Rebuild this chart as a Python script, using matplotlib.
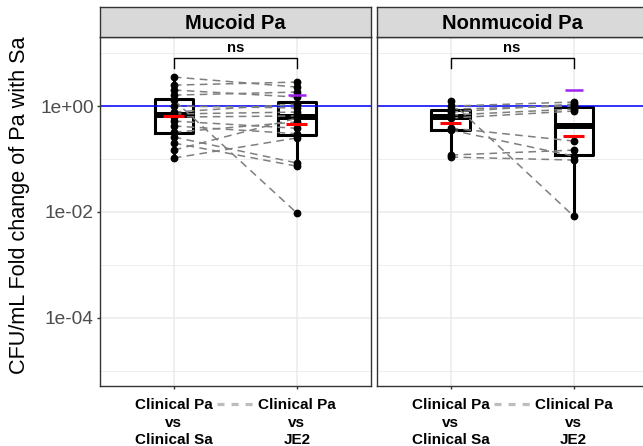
import numpy as np
import matplotlib
matplotlib.use("Agg")
import matplotlib.pyplot as plt
from matplotlib import cbook
from matplotlib.ticker import FixedLocator, FixedFormatter

plt.rcParams.update({
    "font.family": ["Liberation Sans", "DejaVu Sans"],
})

# =========================
# Data (CFU/mL fold change, paired by isolate)
# =========================
panels = ["Mucoid Pa", "Nonmucoid Pa"]
groups = ["Clinical Pa\nvs\nClinical Sa", "Clinical Pa\nvs\nJE2"]

mucoid_clinical_sa = [3.53, 2.49, 2.01, 1.61, 1.30, 1.00, 0.77, 0.71,
                      0.62, 0.52, 0.42, 0.32, 0.26, 0.20, 0.147, 0.104]
mucoid_je2 = [2.29, 2.84, 1.48, 1.84, 0.0095, 0.92, 1.09, 0.77,
              0.65, 0.38, 0.30, 0.50, 0.084, 0.073, 0.59, 0.25]

nonmucoid_clinical_sa = [1.24, 1.00, 0.878, 0.77, 0.676, 0.593, 0.384, 0.352, 0.1186, 0.1086]
nonmucoid_je2 = [0.00833, 1.19, 1.00, 1.09, 0.878, 0.804, 0.218, 0.1135, 0.147, 0.0953]

# purple marker on the JE2 group of each panel
je2_marker = [1.64, 2.01]
sig_labels = ["ns", "ns"]

panel_data = [
    (mucoid_clinical_sa, mucoid_je2),
    (nonmucoid_clinical_sa, nonmucoid_je2),
]

# =========================
# Layout (pixel based, 643 x 446)
# =========================
W, H = 643, 446
fig = plt.figure(figsize=(W / 100, H / 100), dpi=100)

pan_top, pan_bot = 37.3, 386.4
pan_w = 270.7
pan_lefts = [100, 376.7]
strip_h = 30

ymin, ymax = 10 ** -5.3, 10 ** 1.3
major = [1e0, 1e-2, 1e-4]
major_lbl = ["1e+00", "1e-02", "1e-04"]
minor = [1e1, 1e-1, 1e-3, 1e-5]

box_w = 0.31
grid_c = "#EBEBEB"
border_c = "#333333"

for i, (name, (left_vals, right_vals)) in enumerate(zip(panels, panel_data)):
    x0 = pan_lefts[i]
    ax = fig.add_axes([x0 / W, (H - pan_bot) / H, pan_w / W, (pan_bot - pan_top) / H])
    sax = fig.add_axes([x0 / W, (H - pan_top) / H, pan_w / W, strip_h / H])

    ax.set_yscale("log")
    ax.set_ylim(ymin, ymax)
    ax.set_xlim(0.4, 2.6)

    # grid
    for v in minor:
        ax.axhline(v, color=grid_c, lw=0.6, zorder=0)
    for v in major:
        ax.axhline(v, color=grid_c, lw=1.1, zorder=0)
    for xv in [1, 2]:
        ax.axvline(xv, color=grid_c, lw=1.1, zorder=0)

    # boxplots computed on log scale
    stats = []
    for vals in (left_vals, right_vals):
        s = cbook.boxplot_stats(np.log10(vals), whis=1.5)[0]
        for k in ["med", "q1", "q3", "whislo", "whishi", "mean"]:
            s[k] = 10 ** s[k]
        s["fliers"] = []
        stats.append(s)
    ax.bxp(stats, positions=[1, 2], widths=box_w, showfliers=False,
           boxprops=dict(color="black", lw=2.2),
           whiskerprops=dict(color="black", lw=2.2),
           capprops=dict(lw=0),
           medianprops=dict(color="black", lw=4.3, solid_capstyle="butt"),
           zorder=2)

    # reference line at 1
    ax.axhline(1, color="#0000FF", lw=1.1, zorder=2.5)

    # paired lines
    for a, b in zip(left_vals, right_vals):
        ax.plot([1, 2], [a, b], color="#7F7F7F", lw=1.1, dashes=(5, 3.5), zorder=3)

    # points
    ax.plot(np.ones(len(left_vals)), left_vals, "o", color="black", ms=4.6, zorder=4)
    ax.plot(np.full(len(right_vals), 2), right_vals, "o", color="black", ms=4.6, zorder=4)

    # geometric means (red)
    for xp, vals in zip([1, 2], (left_vals, right_vals)):
        gm = 10 ** np.mean(np.log10(vals))
        ax.plot([xp - 0.085, xp + 0.085], [gm, gm], color="#FF0000", lw=2.2,
                solid_capstyle="butt", zorder=5)

    # purple marker
    ax.plot([2 - 0.073, 2 + 0.073], [je2_marker[i]] * 2, color="#A020F0", lw=1.8,
            solid_capstyle="butt", zorder=5)

    # significance bracket
    ax.plot([1, 1, 2, 2], [5.16, 8.19, 8.19, 5.16], color="black", lw=1.0, zorder=5)
    ax.text(1.5, 9.3, sig_labels[i], ha="center", va="bottom", fontsize=10.7,
            fontweight="bold", color="black")

    # odd dashed key between tick labels
    ax.plot([1.35, 1.675], [-0.049, -0.049], transform=ax.get_xaxis_transform(),
            color="#BDBDBD", lw=2.3, dashes=(2.2, 2.2), clip_on=False)

    # axes styling
    ax.set_xticks([1, 2])
    ax.set_xticklabels(groups, fontsize=11, fontweight="bold", color="black",
                       linespacing=1.3)
    ax.yaxis.set_major_locator(FixedLocator(major))
    ax.yaxis.set_minor_locator(FixedLocator([]))
    if i == 0:
        ax.yaxis.set_major_formatter(FixedFormatter(major_lbl))
        ax.tick_params(axis="y", labelsize=13.8, labelcolor="#4D4D4D",
                       color="#333333", length=2.5, width=1, pad=2)
        ax.set_ylabel("CFU/mL Fold change of Pa with Sa", fontsize=15.6, color="black")
        ax.yaxis.set_label_coords(-0.257, 0.52)
    else:
        ax.tick_params(axis="y", left=False, labelleft=False)
    ax.tick_params(axis="x", color="#333333", length=2.5, width=1, pad=6)
    for sp in ax.spines.values():
        sp.set_color(border_c)
        sp.set_linewidth(1.0)

    # facet strip
    sax.set_facecolor("#D9D9D9")
    sax.set_xticks([])
    sax.set_yticks([])
    for sp in sax.spines.values():
        sp.set_color(border_c)
        sp.set_linewidth(1.0)
    sax.text(0.5, 0.47, name, ha="center", va="center", fontsize=14.5,
             fontweight="bold", color="black", transform=sax.transAxes)

fig.savefig("out.png", dpi=100)
